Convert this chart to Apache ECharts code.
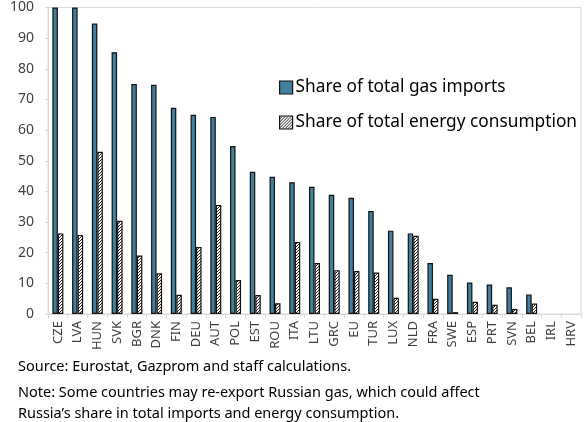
<!DOCTYPE html>
<html>
<head>
<meta charset="utf-8">
<script src="https://cdn.jsdelivr.net/npm/echarts@6/dist/echarts.min.js"></script>
<style>
html,body{margin:0;padding:0;background:#fff;}
#c{width:586px;height:422px;}
</style>
</head>
<body>
<div id="c"></div>
<script>
const categories = ['CZE','LVA','HUN','SVK','BGR','DNK','FIN','DEU','AUT','POL','EST','ROU','ITA','LTU','GRC','EU','TUR','LUX','NLD','FRA','SWE','ESP','PRT','SVN','BEL','IRL','HRV'];
const gasImports = [100,100,94.8,85.4,75.0,74.8,67.3,65.0,64.3,54.8,46.4,44.8,43.0,41.5,38.9,37.9,33.6,27.2,26.3,16.6,12.8,10.3,9.6,8.7,6.4,null,null];
const energyConsumption = [26.3,25.8,52.9,30.4,19.1,13.3,6.3,21.9,35.6,11.1,6.2,3.5,23.5,16.6,14.3,14.0,13.5,5.3,25.5,5.0,0.6,4.0,3.0,1.6,3.4,null,null];
const seriesNames = ['Share of total gas imports','Share of total energy consumption'];
const yTicks = [0,10,20,30,40,50,60,70,80,90,100];

function makeHatch(){
  const cv = document.createElement('canvas');
  cv.width = 3; cv.height = 3;
  const ctx = cv.getContext('2d');
  ctx.fillStyle = '#ffffff';
  ctx.fillRect(0,0,3,3);
  ctx.fillStyle = '#222222';
  ctx.fillRect(2,0,1,1);
  ctx.fillRect(1,1,1,1);
  ctx.fillRect(0,2,1,1);
  return cv;
}
const hatch = makeHatch();

const chart = echarts.init(document.getElementById('c'), null, {renderer:'canvas'});
chart.setOption({
  animation:false,
  textStyle:{fontFamily:'Noto Sans'},
  grid:{left:48,right:5,top:7.5,bottom:108,show:true,borderColor:'#d9d9d9',borderWidth:1},
  legend:{
    orient:'vertical', left:274, top:74, itemGap:18, itemWidth:13, itemHeight:13,
    icon:'rect',
    itemStyle:{borderWidth:1.2,borderColor:'#111'},
    textStyle:{fontSize:17.3,color:'#000',fontFamily:'Noto Sans',padding:[0,0,0,-2]},
    data:seriesNames
  },
  xAxis:{
    type:'category', data:categories,
    axisLine:{lineStyle:{color:'#d9d9d9',width:1}},
    axisTick:{show:true,length:4,lineStyle:{color:'#d9d9d9'}},
    axisLabel:{rotate:90,interval:0,fontSize:13,color:'#404040',margin:7,fontFamily:'Noto Sans'}
  },
  yAxis:{
    type:'value', min:yTicks[0], max:yTicks[yTicks.length-1], interval:10,
    splitLine:{show:false},
    axisLine:{show:true,lineStyle:{color:'#d9d9d9'}},
    axisTick:{show:true,length:3,lineStyle:{color:'#d9d9d9'}},
    axisLabel:{fontSize:14,color:'#404040',margin:14,fontFamily:'Noto Sans'}
  },
  series:[
    {name:seriesNames[0],type:'bar',data:gasImports,barWidth:5.5,barGap:'0%',
     itemStyle:{color:'#41809f',borderColor:'#111',borderWidth:1.2}},
    {name:seriesNames[1],type:'bar',data:energyConsumption,barWidth:5.5,barGap:'0%',
     itemStyle:{color:{image:hatch,repeat:'repeat'},borderColor:'#111',borderWidth:1.2}}
  ],
  graphic:[
    {type:'text',left:18,top:359,style:{text:'Source: Eurostat, Gazprom and staff calculations.',fontSize:14.5,fontFamily:'Noto Sans',fill:'#000'}},
    {type:'text',left:18,top:385,style:{text:'Note: Some countries may re-export Russian gas, which could affect',fontSize:14.5,fontFamily:'Noto Sans',fill:'#000'}},
    {type:'text',left:18,top:406,style:{text:'Russia\u2019s share in total imports and energy consumption.',fontSize:14.5,fontFamily:'Noto Sans',fill:'#000'}}
  ]
});
</script>
</body>
</html>
